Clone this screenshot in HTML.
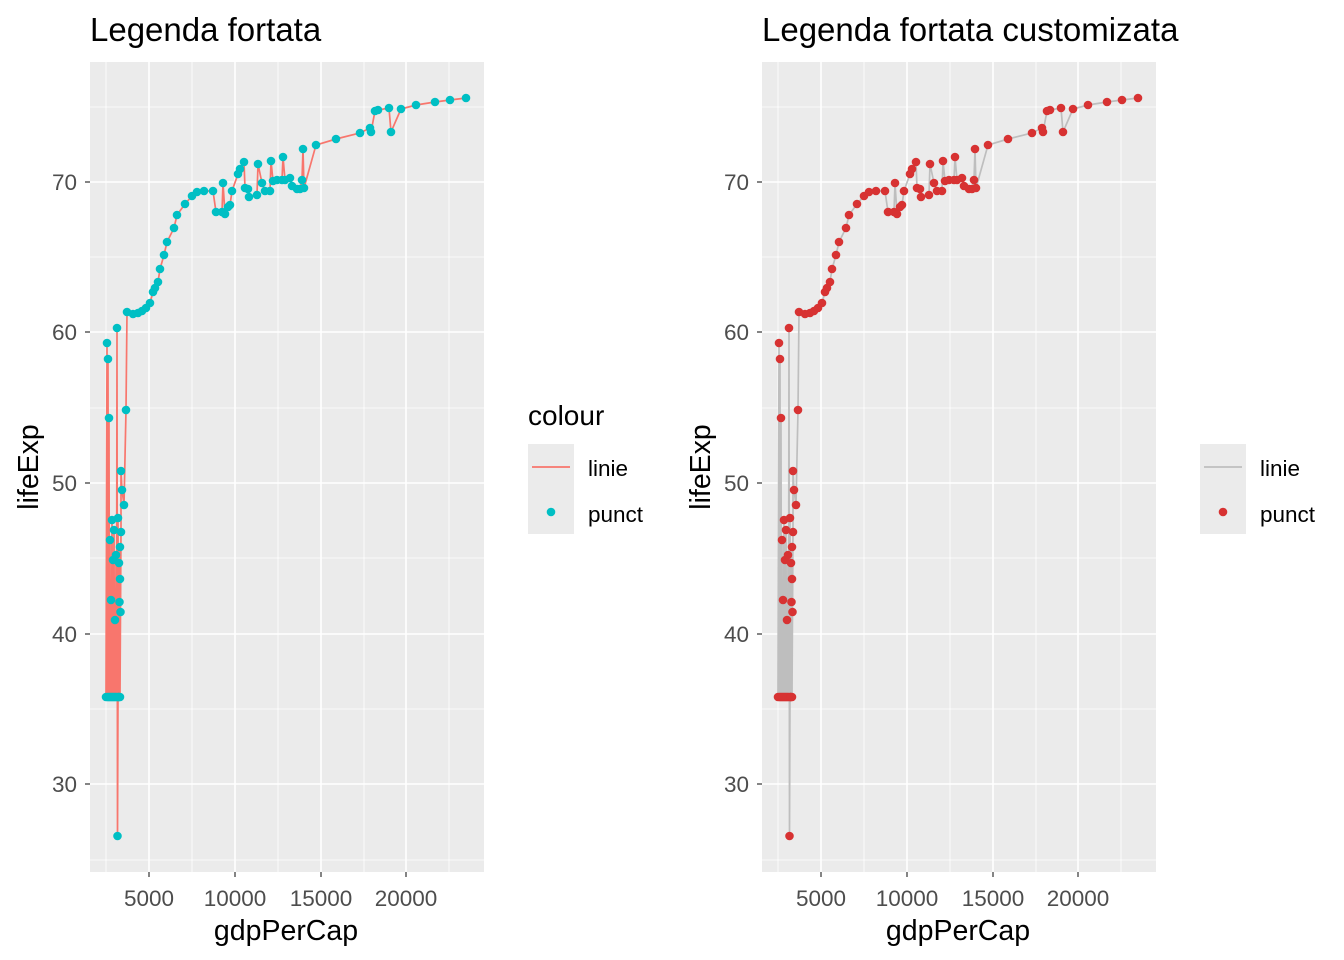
<!DOCTYPE html>
<html><head><meta charset="utf-8"><style>
body{margin:0;background:#fff;}
svg{display:block;font-family:"Liberation Sans",Arial,sans-serif;}
</style></head><body>
<svg id="s" width="1344" height="960" xmlns="http://www.w3.org/2000/svg"></svg>
<script>
var pts=[[106,697],[107,343],[107.5,697],[108,359],[108.5,697],[109,418],[109.5,697],[110,540],[110.5,697],[111,600],[111.5,697],[112,520],[112.5,697],[113,560],[113.5,697],[114,530],[114.5,697],[115,620],[115.5,697],[116,555],[116.5,697],[117,328],[117.5,836],[118,697],[118,518],[118.5,697],[119,563],[119,697],[119.5,602],[120,579],[120,547],[120,697],[120.5,612],[121,532],[121,471],[122,490],[124,505],[126,410],[127,312],[133,314],[138,313],[142,311],[146,308],[150,303],[153,292],[155,288],[158,282],[160,269],[164,255],[167,242],[174,228],[177,215],[185,204],[192,196],[197,192],[204,191],[213,191],[216,212],[222,212],[223,183],[225,214],[228,207],[230,205],[232,191],[238,174],[240,169],[244,162],[245,188],[248,189],[249,197],[257,195],[258,164],[262,183],[265,191],[270,191],[271,161],[273,181],[277,180],[282,180],[283,157],[285,180],[290,178],[292,186],[297,189],[300,189],[302,180],[303,149],[304,188],[316,145],[336,139],[360,133],[370,128],[371,132],[375,111],[378,110],[389,108],[391,132],[401,109],[416,105],[435,102],[450,100],[466,98]];
var h='';
function panel(dx,title,lc,pc){
  h+='<text x="'+(90+dx)+'" y="41" font-size="33" fill="#000">'+title+'</text>';
  h+='<rect x="'+(90+dx)+'" y="62" width="394" height="810" fill="#EBEBEB"/>';
  [106,192,278,364,449].forEach(function(x){h+='<line x1="'+(x+dx)+'" x2="'+(x+dx)+'" y1="62" y2="872" stroke="#fff" stroke-width="0.8"/>';});
  [107,257,408,558,709,860].forEach(function(y){h+='<line x1="'+(90+dx)+'" x2="'+(484+dx)+'" y1="'+y+'" y2="'+y+'" stroke="#fff" stroke-width="0.8"/>';});
  [[149,'5000'],[235,'10000'],[321,'15000'],[406,'20000']].forEach(function(t){
    h+='<line x1="'+(t[0]+dx)+'" x2="'+(t[0]+dx)+'" y1="62" y2="872" stroke="#fff" stroke-width="1.6"/>';
    h+='<line x1="'+(t[0]+dx)+'" x2="'+(t[0]+dx)+'" y1="872" y2="877" stroke="#333" stroke-width="1.2"/>';
    h+='<text x="'+(t[0]+dx)+'" y="906" font-size="22.5" fill="#4D4D4D" text-anchor="middle">'+t[1]+'</text>';});
  [[182,'70'],[332,'60'],[483,'50'],[634,'40'],[784,'30']].forEach(function(t){
    h+='<line x1="'+(90+dx)+'" x2="'+(484+dx)+'" y1="'+t[0]+'" y2="'+t[0]+'" stroke="#fff" stroke-width="1.6"/>';
    h+='<line x1="'+(85+dx)+'" x2="'+(90+dx)+'" y1="'+t[0]+'" y2="'+t[0]+'" stroke="#333" stroke-width="1.2"/>';
    h+='<text x="'+(77+dx)+'" y="'+(t[0]+8)+'" font-size="22.5" fill="#4D4D4D" text-anchor="end">'+t[1]+'</text>';});
  h+='<text x="'+(286+dx)+'" y="940" font-size="28.5" text-anchor="middle">gdpPerCap</text>';
  h+='<text transform="translate('+(38+dx)+',467) rotate(-90)" font-size="28.5" text-anchor="middle">lifeExp</text>';
  h+='<polyline fill="none" stroke="'+lc+'" stroke-width="1.7" points="'+pts.map(function(p){return (p[0]+dx)+','+p[1];}).join(' ')+'"/>';
  pts.forEach(function(p){h+='<circle cx="'+(p[0]+dx)+'" cy="'+p[1]+'" r="4.3" fill="'+pc+'"/>';});
}
panel(0,'Legenda fortata','#F8766D','#00BFC4');
panel(672,'Legenda fortata customizata','#BEBEBE','#D73232');
h+='<text x="528" y="425" font-size="28">colour</text>';
h+='<rect x="528" y="444" width="46" height="90" fill="#EBEBEB"/>';
h+='<line x1="532" x2="570" y1="467" y2="467" stroke="#F8766D" stroke-width="1.7"/>';
h+='<circle cx="551" cy="512" r="4.3" fill="#00BFC4"/>';
h+='<text x="588" y="476" font-size="22.5">linie</text><text x="588" y="522" font-size="22.5">punct</text>';
h+='<rect x="1200" y="444" width="46" height="90" fill="#EBEBEB"/>';
h+='<line x1="1204" x2="1242" y1="467" y2="467" stroke="#BEBEBE" stroke-width="1.7"/>';
h+='<circle cx="1223" cy="512" r="4.3" fill="#D73232"/>';
h+='<text x="1260" y="476" font-size="22.5">linie</text><text x="1260" y="522" font-size="22.5">punct</text>';
document.getElementById('s').innerHTML=h;
</script>
</body></html>
